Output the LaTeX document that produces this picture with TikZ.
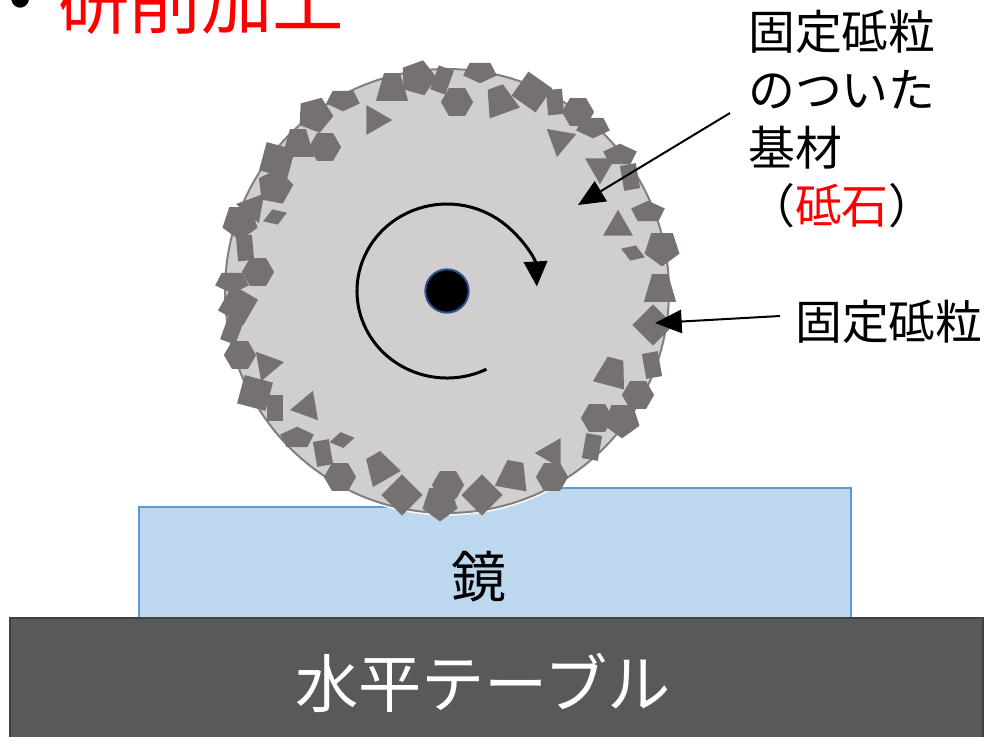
\documentclass[tikz,border=0pt]{standalone}
\usepackage{fontspec}
\setmainfont{Noto Sans CJK JP}
\usetikzlibrary{arrows.meta}
\definecolor{wheelgrey}{RGB}{208,206,206}
\definecolor{wheeledge}{RGB}{128,128,128}
\definecolor{graincol}{RGB}{118,113,113}
\definecolor{mirrorfill}{RGB}{189,215,238}
\definecolor{mirroredge}{RGB}{91,155,213}
\definecolor{tablecol}{RGB}{89,89,89}
\definecolor{tableedge}{RGB}{64,64,64}
\definecolor{hubedge}{RGB}{47,82,143}
\tikzset{
  pics/grainhex/.style={code={\fill[graincol] (0:14) -- (60:14) -- (120:14) -- (180:14)
      -- (240:14) -- (300:14) -- cycle;}},
  pics/grainpent/.style={code={\fill[graincol] (90:16) -- (162:16) -- (234:16) -- (306:16)
      -- (18:16) -- cycle;}},
  pics/grainflat/.style={code={\fill[graincol,yscale=.7,xscale=1.1] (90:14) -- (162:14)
      -- (234:14) -- (306:14) -- (18:14) -- cycle;}},
  pics/graindia/.style={code={\fill[graincol] (0:18) -- (90:18) -- (180:18) -- (270:18)
      -- cycle;}},
  pics/grainchip/.style={code={\fill[graincol] (0:11) -- (90:7) -- (180:11) -- (270:7)
      -- cycle;}},
  pics/graintri/.style={code={\fill[graincol] (90:15) -- (210:15) -- (330:15) -- cycle;}},
  pics/graintrap/.style={code={\fill[graincol] (-14,12) -- (14,12) -- (7,-12) -- (-7,-12)
      -- cycle;}},
  pics/grainbar/.style={code={\fill[graincol] (-7,-11) rectangle (7,11);}},
  mirror/.style={fill=mirrorfill,draw=mirroredge,line width=.5mm},
  spin/.style={-{Triangle[length=7.5mm,width=7mm]},line width=.9mm},
  callout/.style={-{Triangle[length=8mm,width=7mm]},line width=.6mm},
  jlabel/.style={inner sep=0pt,font=\fontsize{40pt}{49.5pt}\selectfont},
}

\begin{document}
\begin{tikzpicture}[x=0.3mm,y=-0.3mm]
  \path[use as bounding box,clip] (0,0) rectangle (987,736);
  % heading, cut by the page top
  \node[anchor=base,inner sep=0pt,font=\fontsize{61pt}{70pt}\selectfont] (dot) at (21,19) {•};
  \node[anchor=base west,inner sep=0pt,text=red,font=\fontsize{61pt}{70pt}\selectfont]
    (title) at (58,28) {研削加工};
  % mirror, already ground down on the left
  \draw[mirror] (139,618) -- (139,507) -- (396,507) -- (549,488) -- (851,488)
    -- (851,618) -- cycle;
  \node[font=\fontsize{47pt}{50pt}\selectfont,inner sep=0pt] (mirror) at (479,577) {鏡};
  % table
  \draw[fill=tablecol,draw=tableedge,line width=.6mm] (10,618) rectangle (983,760);
  \node[text=white,font=\fontsize{54pt}{60pt}\selectfont,inner sep=0pt] (table) at (483,683) {水平テーブル};
  % wheel
  \draw[white,line width=1.5mm] (447,291) circle (222);
  \draw[fill=wheelgrey,draw=wheeledge,line width=.6mm] (447,291) circle (222);
  \foreach \x/\y/\s/\r in {392/87/graintrap/0, 418/78/grainpent/20,
      442/80/grainbar/-20, 480/72/grainflat/0, 343/100/grainflat/0, 457/102/grainhex/0,
      500/100/graintrap/20, 532/92/graindia/10, 555/102/grainbar/5, 578/112/grainhex/0,
      593/127/grainflat/0, 315/115/grainpent/15, 375/120/graintri/-30, 560/140/graintri/-10,
      298/143/graintrap/0, 325/147/grainhex/0, 277/160/graindia/30, 620/155/grainflat/180,
      600/167/graintri/0, 630/177/grainbar/10, 275/187/grainpent/25, 253/207/graintri/20,
      240/222/grainpent/0, 275/217/grainchip/20, 648/212/grainflat/180, 618/227/graintri/180,
      245/248/grainbar/5, 662/248/grainpent/0, 633/253/grainchip/-20, 258/272/grainhex/0,
      232/282/grainflat/0, 660/288/graintrap/0, 238/305/graindia/15, 653/325/graindia/0,
      232/330/grainbar/-20, 240/355/grainhex/0, 267/365/graintri/100, 612/372/graintrap/-15,
      652/365/grainbar/10, 255/393/graindia/30, 638/395/grainhex/0, 275/408/grainbar/0,
      307/407/graintri/160, 597/418/grainhex/0, 622/420/grainpent/0, 297/438/grainflat/180,
      342/440/grainchip/10, 323/453/grainbar/10, 592/447/grainbar/-10, 552/453/graintri/30,
      340/477/grainhex/0, 380/467/graintrap/30, 402/495/graindia/0, 448/485/grainhex/0,
      440/503/grainpent/0, 482/495/graindia/0, 513/475/graintrap/-10, 552/477/grainhex/0}
    {\pic[rotate=\r,scale=1.15] at (\x,\y) {\s};}
  \node[circle,fill=black,draw=hubedge,line width=.6mm,minimum size=13mm,inner sep=0pt]
    (hub) at (447,291) {};
  % direction of rotation
  \draw[spin] ([shift={(64:90 and 87)}]hub.center)
    arc[start angle=64,end angle=357,x radius=90,y radius=87];
  % labels
  \node[jlabel,anchor=west,align=left] (base) at (748,119)
    {固定砥粒\\のついた\\基材\\（\textcolor{red}{砥石}）};
  \node[jlabel,anchor=west] (grainlabel) at (795,322) {固定砥粒};
  \coordinate (baseTip) at (578,205);
  \coordinate (grainTip) at (655,323);
  \draw[callout] ([shift={(-18,-6)}]base.west) -- (baseTip);
  \draw[callout] ([shift={(-15,-6)}]grainlabel.west) -- (grainTip);
\end{tikzpicture}
\end{document}
